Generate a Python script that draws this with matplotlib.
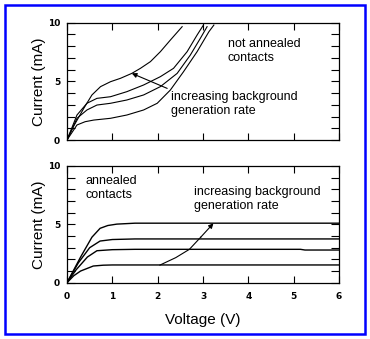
import matplotlib
matplotlib.use("Agg")
import matplotlib.pyplot as plt
from matplotlib.patches import Rectangle

# Not annealed contacts: four I-V curves (V in volts, I in mA)
na_v1 = [0.0, 0.15, 0.37, 0.55, 0.74, 0.96, 1.18, 1.43, 1.62, 1.84, 2.06, 2.28, 2.54]
na_i1 = [0.0, 1.2, 2.70, 3.84, 4.55, 4.97, 5.26, 5.68, 6.11, 6.68, 7.53, 8.52, 9.66]
na_v2 = [0.0, 0.22, 0.44, 0.66, 0.96, 1.32, 1.69, 2.06, 2.35, 2.65, 2.87, 3.01]
na_i2 = [0.0, 2.13, 3.13, 3.55, 3.69, 4.12, 4.69, 5.40, 6.11, 7.53, 8.95, 9.80]
na_v3 = [0.0, 0.22, 0.44, 0.66, 0.96, 1.32, 1.69, 2.06, 2.43, 2.72, 2.94, 3.09]
na_i3 = [0.0, 1.85, 2.56, 2.98, 3.13, 3.41, 3.84, 4.55, 5.68, 7.24, 8.66, 9.66]
na_v4 = [0.0, 0.22, 0.40, 0.59, 0.96, 1.32, 1.69, 1.99, 2.28, 2.57, 2.87, 3.13, 3.24]
na_i4 = [0.0, 1.28, 1.56, 1.70, 1.85, 2.13, 2.56, 3.13, 4.26, 5.82, 7.53, 9.23, 9.80]

# Annealed contacts: four saturating I-V curves
an_v1 = [0.0, 0.3, 0.55, 0.73, 0.9, 1.1, 1.5, 6.0]
an_i1 = [0.0, 2.2, 3.9, 4.66, 4.9, 5.02, 5.1, 5.1]
an_v2 = [0.0, 0.25, 0.5, 0.73, 1.0, 1.5, 6.0]
an_i2 = [0.0, 1.7, 3.0, 3.57, 3.7, 3.75, 3.75]
an_v3 = [0.0, 0.2, 0.45, 0.66, 1.0, 1.5, 5.15, 5.25, 6.0]
an_i3 = [0.0, 1.1, 2.2, 2.74, 2.83, 2.86, 2.86, 2.8, 2.8]
an_v4 = [0.0, 0.15, 0.3, 0.58, 0.8, 1.0, 6.0]
an_i4 = [0.0, 0.6, 1.0, 1.43, 1.5, 1.52, 1.52]

# Arrow paths marking increasing background generation rate
arrow_top_v = [2.21, 1.43]
arrow_top_i = [4.40, 5.68]
arrow_bot_v = [2.05, 2.4, 2.7, 2.95, 3.23]
arrow_bot_i = [1.51, 2.15, 2.86, 3.9, 5.09]

x_ticks = [0, 1, 2, 3, 4, 5, 6]
y_ticks = list(range(0, 11))
y_labels = ["0", "", "", "", "", "5", "", "", "", "", "10"]

W, H = 370, 339
fig = plt.figure(figsize=(W / 100, H / 100), dpi=100)
fig.patch.set_facecolor("white")

txt_font = "Liberation Sans"
tick_kw = dict(fontsize=6.5, fontweight="bold", family="DejaVu Sans")


def style_axes(ax, show_x_labels):
    ax.set_xlim(0, 6)
    ax.set_ylim(0, 10)
    ax.set_xticks(x_ticks)
    ax.set_yticks(y_ticks)
    ax.set_yticklabels(y_labels, **tick_kw)
    if show_x_labels:
        ax.set_xticklabels([str(t) for t in x_ticks], **tick_kw)
    else:
        ax.set_xticklabels([])
    ax.tick_params(axis="x", direction="in", length=5, width=0.8,
                   top=True, bottom=True, pad=7, colors="black")
    ax.tick_params(axis="y", direction="in", length=6, width=0.8,
                   left=True, right=True, pad=5, colors="black")
    for s in ax.spines.values():
        s.set_linewidth(0.9)
    ax.set_ylabel("Current (mA)", fontsize=11, family=txt_font, labelpad=1.5)


lw = 0.8
ax1 = fig.add_axes([67 / W, 1 - 140 / H, 272 / W, 117.3 / H])
for v, i in [(na_v1, na_i1), (na_v2, na_i2), (na_v3, na_i3), (na_v4, na_i4)]:
    ax1.plot(v, i, color="black", lw=lw, solid_joinstyle="round")
ax1.annotate("", xy=(arrow_top_v[1], arrow_top_i[1]),
             xytext=(arrow_top_v[0], arrow_top_i[0]),
             arrowprops=dict(arrowstyle="-|>", color="black", lw=0.8,
                             mutation_scale=7, shrinkA=0, shrinkB=0))
ax1.text(3.55, 7.6, "not annealed\ncontacts", fontsize=9, family=txt_font,
         va="center", ha="left", linespacing=1.2)
ax1.text(2.3, 3.05, "increasing background\ngeneration rate", fontsize=9,
         family=txt_font, va="center", ha="left", linespacing=1.2)
style_axes(ax1, False)

ax2 = fig.add_axes([67 / W, 1 - 282.7 / H, 272 / W, 116.7 / H])
for v, i in [(an_v1, an_i1), (an_v2, an_i2), (an_v3, an_i3), (an_v4, an_i4)]:
    ax2.plot(v, i, color="black", lw=1.0, solid_joinstyle="round")
ax2.plot(arrow_bot_v[:-1], arrow_bot_i[:-1], color="black", lw=lw)
ax2.annotate("", xy=(arrow_bot_v[-1], arrow_bot_i[-1]),
             xytext=(arrow_bot_v[-2], arrow_bot_i[-2]),
             arrowprops=dict(arrowstyle="-|>", color="black", lw=0.8,
                             mutation_scale=7, shrinkA=0, shrinkB=0))
ax2.text(0.4, 8.1, "annealed\ncontacts", fontsize=9, family=txt_font,
         va="center", ha="left", linespacing=1.2)
ax2.text(2.8, 7.2, "increasing background\ngeneration rate", fontsize=9,
         family=txt_font, va="center", ha="left", linespacing=1.2)
style_axes(ax2, True)
ax2.set_xlabel("Voltage (V)", fontsize=11, family=txt_font, labelpad=8)

# Blue frame around the whole figure
fig.patches.append(Rectangle((4.5 / W, 5 / H), 360 / W, 329.5 / H,
                             transform=fig.transFigure, fill=False,
                             edgecolor="#0000ff", lw=1.8))

fig.savefig("out.png", dpi=100, facecolor="white")
